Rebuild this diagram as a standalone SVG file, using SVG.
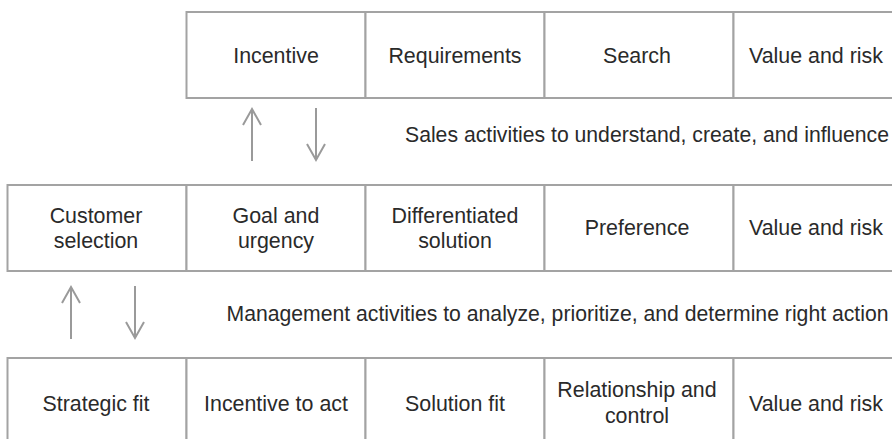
<svg xmlns="http://www.w3.org/2000/svg" width="892" height="439" viewBox="0 0 892 439">
  <style>
    .cell { fill: #ffffff; stroke: #a3a3a3; stroke-width: 2; }
    .lbl { font-family: "Liberation Sans", Arial, Helvetica, sans-serif; font-size: 21.4px; fill: #2a2a2a; text-anchor: middle; }
    .note { font-family: "Liberation Sans", Arial, Helvetica, sans-serif; font-size: 21.2px; fill: #2a2a2a; }
    .arrow { stroke: #9a9a9a; stroke-width: 2; fill: none; marker-end: url(#vhead); }
  </style>
  <defs>
    <marker id="vhead" markerUnits="userSpaceOnUse" viewBox="-18 -11 20 22" refX="0" refY="0" markerWidth="20" markerHeight="22" orient="auto" overflow="visible">
      <path d="M-16,-9 L0,0 L-16,9" fill="none" stroke="#9a9a9a" stroke-width="2"/>
    </marker>
  </defs>

  <rect width="892" height="439" fill="#ffffff"/>

  <!-- Top row -->
  <g id="top-incentive"><rect class="cell" x="186.5" y="12" width="179" height="86"/><text class="lbl" x="276" y="62.5">Incentive</text></g>
  <g id="top-requirements"><rect class="cell" x="365.5" y="12" width="179" height="86"/><text class="lbl" x="455" y="62.5">Requirements</text></g>
  <g id="top-search"><rect class="cell" x="544.5" y="12" width="189" height="86"/><text class="lbl" x="637" y="62.5">Search</text></g>
  <g id="top-value"><rect class="cell" x="733.5" y="12" width="180" height="86"/><text class="lbl" x="816" y="62.5">Value and risk</text></g>

  <!-- Middle row -->
  <g id="mid-customer"><rect class="cell" x="7.5" y="185" width="179" height="86"/><text class="lbl" x="96" y="223">Customer</text><text class="lbl" x="96" y="247.5">selection</text></g>
  <g id="mid-goal"><rect class="cell" x="186.5" y="185" width="179" height="86"/><text class="lbl" x="276" y="223">Goal and</text><text class="lbl" x="276" y="247.5">urgency</text></g>
  <g id="mid-differentiated"><rect class="cell" x="365.5" y="185" width="179" height="86"/><text class="lbl" x="455" y="223">Differentiated</text><text class="lbl" x="455" y="247.5">solution</text></g>
  <g id="mid-preference"><rect class="cell" x="544.5" y="185" width="189" height="86"/><text class="lbl" x="637" y="235">Preference</text></g>
  <g id="mid-value"><rect class="cell" x="733.5" y="185" width="180" height="86"/><text class="lbl" x="816" y="235">Value and risk</text></g>

  <!-- Bottom row -->
  <g id="bot-strategic"><rect class="cell" x="7.5" y="358" width="179" height="90"/><text class="lbl" x="96" y="410.5">Strategic fit</text></g>
  <g id="bot-incentive"><rect class="cell" x="186.5" y="358" width="179" height="90"/><text class="lbl" x="276" y="410.5">Incentive to act</text></g>
  <g id="bot-solution"><rect class="cell" x="365.5" y="358" width="179" height="90"/><text class="lbl" x="455" y="410.5">Solution fit</text></g>
  <g id="bot-relationship"><rect class="cell" x="544.5" y="358" width="189" height="90"/><text class="lbl" x="637" y="397">Relationship and</text><text class="lbl" x="637" y="422.5">control</text></g>
  <g id="bot-value"><rect class="cell" x="733.5" y="358" width="180" height="90"/><text class="lbl" x="816" y="410.5">Value and risk</text></g>

  <!-- Activity captions -->
  <text class="note" x="405" y="142" textLength="484" lengthAdjust="spacingAndGlyphs">Sales activities to understand, create, and influence</text>
  <text class="note" x="226.5" y="321" textLength="662" lengthAdjust="spacingAndGlyphs">Management activities to analyze, prioritize, and determine right action</text>

  <!-- Connectors -->
  <g id="connectors">
    <line class="arrow" x1="252" y1="161" x2="252" y2="109"/>
    <line class="arrow" x1="316" y1="108" x2="316" y2="160"/>
    <line class="arrow" x1="71" y1="339" x2="71" y2="287"/>
    <line class="arrow" x1="135" y1="286" x2="135" y2="338"/>
  </g>
</svg>
